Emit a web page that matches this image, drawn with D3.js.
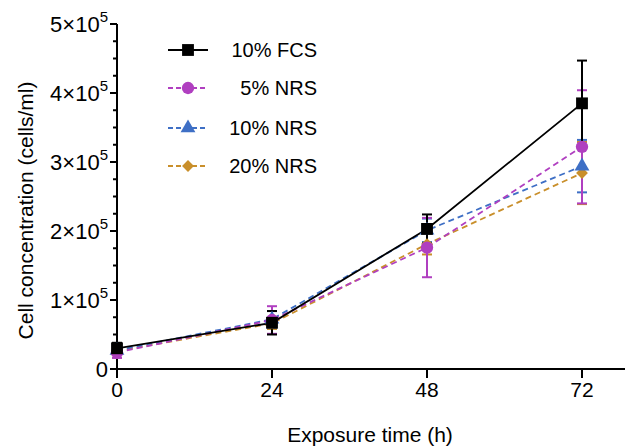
<!DOCTYPE html>
<html>
<head>
<meta charset="utf-8">
<script src="https://cdn.jsdelivr.net/npm/d3@7/dist/d3.min.js"></script>
<style>
  body { margin: 0; background: #fff; }
  svg { display: block; font-family: "Liberation Sans", Arial, sans-serif; }
</style>
</head>
<body>
<svg id="chart"></svg>
<script>
// exposure times (h)
const times = [0, 24, 48, 72];
const seriesNames = ['10% FCS', '5% NRS', '10% NRS', '20% NRS'];

// means (cells/ml)
const fcs10 = [30000, 67000, 203000, 385000];
const nrs5 = [24000, 71000, 176000, 322000];
const nrs10 = [27000, 72000, 201000, 294000];
const nrs20 = [26000, 66000, 181000, 284000];

// standard deviations
const fcs10Err = [8000, 17000, 21000, 62000];
const nrs5Err = [8000, 20000, 43000, 82000];
const nrs10Err = [6000, 12000, 17000, 38000];
const nrs20Err = [6000, 8000, 15000, 45000];

const yTicks = [0, 100000, 200000, 300000, 400000, 500000];

const width = 625, height = 446;

const svg = d3.select('#chart').attr('width', width).attr('height', height);

const x = d3.scaleLinear().domain([0, 72]).range([117, 582]);
const y = d3.scaleLinear().domain([0, 500000]).range([369, 24]);

const series = [
  { name: seriesNames[3], vals: nrs20, err: nrs20Err, color: '#c98f2b', shape: 'diamond', dash: '6,4' },
  { name: seriesNames[2], vals: nrs10, err: nrs10Err, color: '#3e6fc5', shape: 'triangle', dash: '6,4' },
  { name: seriesNames[1], vals: nrs5, err: nrs5Err, color: '#b03fc0', shape: 'circle', dash: '6,4' },
  { name: seriesNames[0], vals: fcs10, err: fcs10Err, color: '#000000', shape: 'square', dash: null }
];

const symbolOf = {
  square: d3.symbol().type(d3.symbolSquare).size(140),
  circle: d3.symbol().type(d3.symbolCircle).size(120),
  triangle: d3.symbol().type(d3.symbolTriangle).size(95),
  diamond: d3.symbol().type(d3.symbolSquare).size(70)
};
const rot = s => s === 'diamond' ? ' rotate(45)' : '';

// axes
const yAxis = svg.append('g').attr('transform', `translate(${x(0)},0)`);
yAxis.append('line')
  .attr('y1', y(500000)).attr('y2', y(0) + 9)
  .attr('stroke', '#000').attr('stroke-width', 2);

// minor ticks every 25k
d3.range(0, 500001, 25000).forEach(v => {
  const major = v % 100000 === 0;
  yAxis.append('line')
    .attr('x1', major ? -7 : -4).attr('x2', 0)
    .attr('y1', y(v)).attr('y2', y(v))
    .attr('stroke', '#000').attr('stroke-width', 2);
});

yTicks.forEach(v => {
  const t = yAxis.append('text')
    .attr('x', -9).attr('y', y(v) + 8)
    .attr('text-anchor', 'end')
    .style('font-size', '22px');
  if (v === 0) {
    t.text('0');
  } else {
    t.append('tspan').text((v / 100000) + '×10');
    t.append('tspan').attr('dy', -10).style('font-size', '15px').text('5');
  }
});

const xAxis = svg.append('g').attr('transform', `translate(0,${y(0)})`);
xAxis.append('line')
  .attr('x1', x(0) - 2).attr('x2', width)
  .attr('stroke', '#000').attr('stroke-width', 2);
times.forEach(t => {
  xAxis.append('line')
    .attr('x1', x(t)).attr('x2', x(t))
    .attr('y1', 0).attr('y2', 9)
    .attr('stroke', '#000').attr('stroke-width', 2);
  xAxis.append('text')
    .attr('x', x(t)).attr('y', 28)
    .attr('text-anchor', 'middle')
    .style('font-size', '21px')
    .text(t);
});

svg.append('text')
  .attr('x', 370).attr('y', 442)
  .attr('text-anchor', 'middle')
  .style('font-size', '21px')
  .text('Exposure time (h)');

svg.append('text')
  .attr('transform', `translate(33,${(y(0) + y(500000)) / 2 + 14}) rotate(-90)`)
  .attr('text-anchor', 'middle')
  .style('font-size', '21px')
  .text('Cell concentration (cells/ml)');

// error bars
series.forEach(s => {
  const g = svg.append('g');
  s.vals.forEach((v, i) => {
    const cx = x(times[i]);
    g.append('line')
      .attr('x1', cx).attr('x2', cx)
      .attr('y1', y(v - s.err[i])).attr('y2', y(v + s.err[i]))
      .attr('stroke', s.color).attr('stroke-width', 2);
    [v - s.err[i], v + s.err[i]].forEach(e => {
      g.append('line')
        .attr('x1', cx - 5).attr('x2', cx + 5)
        .attr('y1', y(e)).attr('y2', y(e))
        .attr('stroke', s.color).attr('stroke-width', 2);
    });
  });
});

// lines and markers
const line = d3.line().x((d, i) => x(times[i])).y(d => y(d));
series.forEach(s => {
  svg.append('path')
    .datum(s.vals)
    .attr('d', line)
    .attr('fill', 'none')
    .attr('stroke', s.color)
    .attr('stroke-width', 1.8)
    .attr('stroke-dasharray', s.dash);
});
series.forEach(s => {
  svg.append('g').selectAll('path')
    .data(s.vals)
    .enter().append('path')
    .attr('d', symbolOf[s.shape])
    .attr('transform', (d, i) => `translate(${x(times[i])},${y(d)})${rot(s.shape)}`)
    .attr('fill', s.color);
});

// legend
const legendRows = [50, 88, 128, 166];
const legend = svg.append('g');
series.slice().reverse().forEach((s, i) => {
  const ly = legendRows[i];
  legend.append('line')
    .attr('x1', 168).attr('x2', 208)
    .attr('y1', ly).attr('y2', ly)
    .attr('stroke', s.color).attr('stroke-width', 1.8)
    .attr('stroke-dasharray', s.dash ? '5,3' : null);
  legend.append('path')
    .attr('d', symbolOf[s.shape])
    .attr('transform', `translate(188,${ly})${rot(s.shape)}`)
    .attr('fill', s.color);
  legend.append('text')
    .attr('x', 317).attr('y', ly + 7)
    .attr('text-anchor', 'end')
    .style('font-size', '20px')
    .text(s.name);
});
</script>
</body>
</html>
